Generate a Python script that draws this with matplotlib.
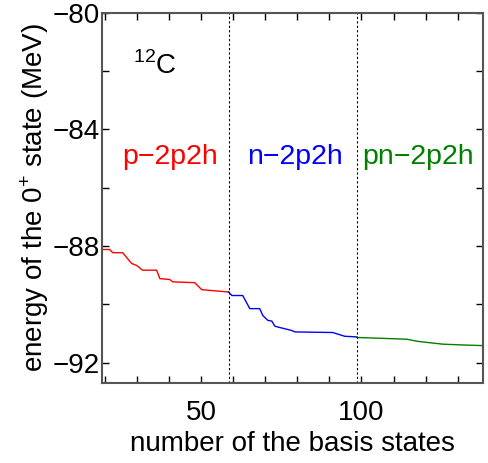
import matplotlib
matplotlib.use("Agg")
import matplotlib.pyplot as plt

plt.rcParams['font.family'] = ['Liberation Sans', 'DejaVu Sans']
plt.rcParams['mathtext.fontset'] = 'custom'
plt.rcParams['mathtext.rm'] = 'Liberation Sans'

# data
p_x = [19, 21.3, 22.3, 25.4, 28.2, 29.8, 31.6, 36.0, 37.0, 40.1, 41.0, 47.9, 50.1, 58.5]
p_e = [-88.12, -88.12, -88.23, -88.23, -88.60, -88.67, -88.83, -88.83, -89.12, -89.15, -89.23, -89.26, -89.50, -89.58]

n_x = [58.5, 59.5, 62.9, 65.1, 68.2, 69.2, 70.7, 72.0, 72.9, 73.8, 78.2, 79.2, 91.0, 94.8, 98.5]
n_e = [-89.58, -89.70, -89.70, -90.15, -90.15, -90.39, -90.55, -90.58, -90.75, -90.78, -90.90, -90.95, -90.97, -91.10, -91.12]

pn_x = [98.5, 114.2, 117.3, 121.3, 125.4, 132.3, 138]
pn_e = [-91.14, -91.20, -91.27, -91.32, -91.37, -91.40, -91.42]

boundaries = [58.5, 98.5]
labels = ["p\u22122p2h", "n\u22122p2h", "pn\u22122p2h"]
label_x = [40.1, 79.2, 117.6]
label_colors = ["red", "blue", "green"]

fig = plt.figure(figsize=(4.89, 4.63), dpi=100)
ax = fig.add_axes([0.209, 0.173, 0.779, 0.799])

ax.plot(p_x, p_e, color="red", lw=1.0)
ax.plot(n_x, n_e, color="blue", lw=1.0)
ax.plot(pn_x, pn_e, color="green", lw=1.0)

for b in boundaries:
    ax.axvline(b, color="black", ls=(0, (2, 2)), lw=0.8)

for t, xx, c in zip(labels, label_x, label_colors):
    ax.text(xx, -84.95, t, color=c, fontsize=20.5, ha="center", va="center")

ax.text(35.4, -81.8, r"$^{12}$C", fontsize=20, ha="center", va="center")

ax.set_xlim(19, 138)
ax.set_ylim(-92.7, -80)
ax.set_xticks(range(20, 140, 10))
ax.set_xticklabels(["50" if v == 50 else "100" if v == 100 else "" for v in range(20, 140, 10)])
ax.set_yticks([-92, -90, -88, -86, -84, -82, -80])
ax.set_yticklabels(["\u221292", "", "\u221288", "", "\u221284", "", "\u221280"])
ax.tick_params(direction="in", top=True, right=True, labelsize=20, length=5, width=1, color="black")
ax.tick_params(axis="x", pad=12)
ax.tick_params(axis="y", pad=2)
for s in ax.spines.values():
    s.set_color("#555555")
    s.set_linewidth(1.5)

ax.set_xlabel("number of the basis states", fontsize=20, labelpad=4)
ax.set_ylabel("energy of the 0$^{+}$ state (MeV)", fontsize=20, labelpad=1)

fig.savefig("out.png", dpi=100)
